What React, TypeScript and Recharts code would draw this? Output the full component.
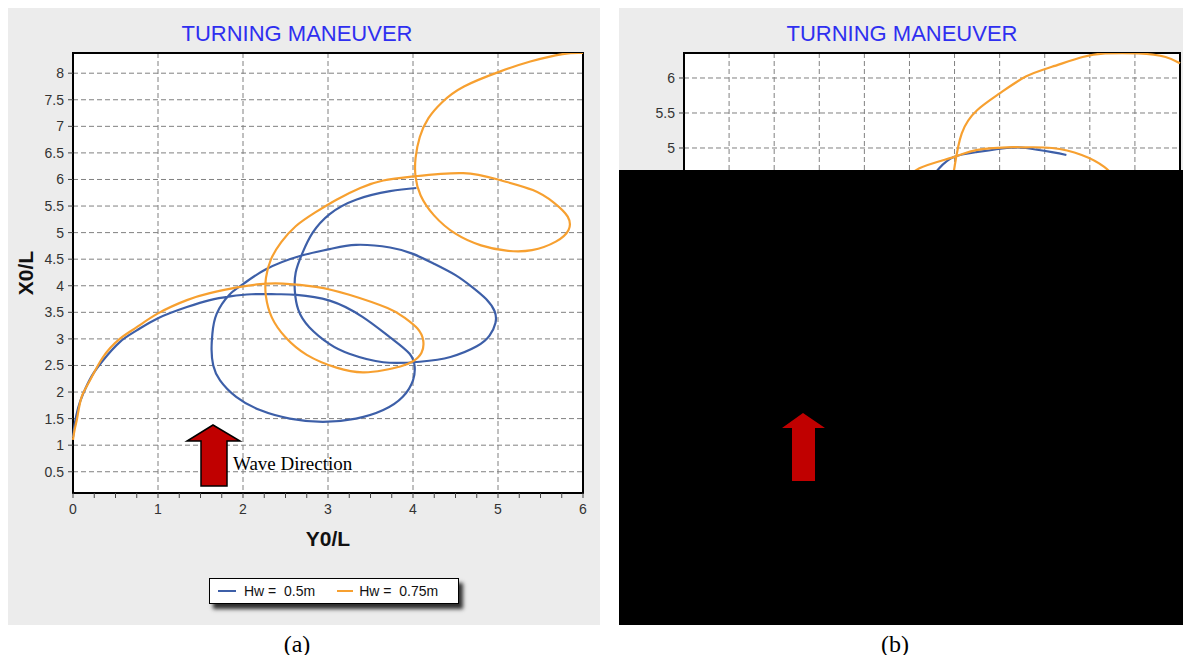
import React from 'react';
import { ScatterChart, Scatter, XAxis, YAxis, CartesianGrid, ReferenceArea, Legend } from 'recharts';

// Trajectories: x = Y0/L, y = X0/L
const blueA = [
  { x: 0, y: 1.15 }, { x: 0.02, y: 1.4 }, { x: 0.06, y: 1.7 }, { x: 0.12, y: 1.97 }, { x: 0.22, y: 2.3 },
  { x: 0.35, y: 2.59 }, { x: 0.55, y: 2.94 }, { x: 0.75, y: 3.16 }, { x: 1.0, y: 3.39 }, { x: 1.34, y: 3.6 },
  { x: 1.61, y: 3.73 }, { x: 1.85, y: 3.8 }, { x: 2.1, y: 3.84 }, { x: 2.4, y: 3.84 }, { x: 2.63, y: 3.83 },
  { x: 3.02, y: 3.72 }, { x: 3.41, y: 3.41 }, { x: 3.73, y: 3.03 }, { x: 3.96, y: 2.72 }, { x: 4.02, y: 2.47 },
  { x: 4.0, y: 2.22 }, { x: 3.88, y: 1.91 }, { x: 3.65, y: 1.66 }, { x: 3.33, y: 1.5 }, { x: 2.94, y: 1.44 },
  { x: 2.55, y: 1.5 }, { x: 2.2, y: 1.66 }, { x: 1.92, y: 1.91 }, { x: 1.73, y: 2.22 }, { x: 1.65, y: 2.5 },
  { x: 1.63, y: 2.8 }, { x: 1.64, y: 3.1 }, { x: 1.69, y: 3.47 }, { x: 1.84, y: 3.83 }, { x: 2.0, y: 4.03 },
  { x: 2.27, y: 4.31 }, { x: 2.67, y: 4.56 }, { x: 3.02, y: 4.69 }, { x: 3.33, y: 4.77 }, { x: 3.73, y: 4.72 },
  { x: 4.0, y: 4.6 }, { x: 4.24, y: 4.42 }, { x: 4.5, y: 4.2 }, { x: 4.7, y: 3.97 }, { x: 4.86, y: 3.75 },
  { x: 4.96, y: 3.52 }, { x: 4.97, y: 3.3 }, { x: 4.9, y: 3.06 }, { x: 4.75, y: 2.86 }, { x: 4.44, y: 2.66 },
  { x: 4.08, y: 2.57 }, { x: 3.65, y: 2.56 }, { x: 3.25, y: 2.72 }, { x: 3.02, y: 2.9 }, { x: 2.78, y: 3.22 },
  { x: 2.65, y: 3.55 }, { x: 2.61, y: 3.9 }, { x: 2.62, y: 4.25 }, { x: 2.7, y: 4.62 }, { x: 2.82, y: 5.0 },
  { x: 3.02, y: 5.35 }, { x: 3.33, y: 5.62 }, { x: 3.73, y: 5.78 }, { x: 4.04, y: 5.84 },
];

const orangeA = [
  { x: 0, y: 1.1 }, { x: 0.02, y: 1.3 }, { x: 0.05, y: 1.52 }, { x: 0.1, y: 1.9 }, { x: 0.2, y: 2.22 },
  { x: 0.35, y: 2.65 }, { x: 0.55, y: 3.0 }, { x: 0.75, y: 3.22 }, { x: 1.0, y: 3.48 }, { x: 1.34, y: 3.73 },
  { x: 1.61, y: 3.86 }, { x: 1.93, y: 3.97 }, { x: 2.2, y: 4.03 }, { x: 2.47, y: 4.04 }, { x: 2.86, y: 3.98 },
  { x: 3.25, y: 3.83 }, { x: 3.7, y: 3.58 }, { x: 3.9, y: 3.4 }, { x: 4.05, y: 3.2 }, { x: 4.12, y: 2.97 },
  { x: 4.1, y: 2.74 }, { x: 4.0, y: 2.58 }, { x: 3.85, y: 2.48 }, { x: 3.65, y: 2.41 }, { x: 3.41, y: 2.37 },
  { x: 3.1, y: 2.46 }, { x: 2.75, y: 2.7 }, { x: 2.5, y: 3.03 }, { x: 2.34, y: 3.4 }, { x: 2.27, y: 3.8 },
  { x: 2.27, y: 4.15 }, { x: 2.33, y: 4.5 }, { x: 2.45, y: 4.82 }, { x: 2.62, y: 5.12 }, { x: 2.85, y: 5.38 },
  { x: 3.1, y: 5.62 }, { x: 3.38, y: 5.84 }, { x: 3.65, y: 5.98 }, { x: 4.02, y: 6.06 }, { x: 4.59, y: 6.12 },
  { x: 5.02, y: 5.99 }, { x: 5.41, y: 5.8 }, { x: 5.66, y: 5.56 }, { x: 5.82, y: 5.3 }, { x: 5.83, y: 5.05 },
  { x: 5.68, y: 4.83 }, { x: 5.4, y: 4.67 }, { x: 5.1, y: 4.66 }, { x: 4.8, y: 4.76 }, { x: 4.5, y: 4.98 },
  { x: 4.25, y: 5.32 }, { x: 4.09, y: 5.7 }, { x: 4.03, y: 6.05 }, { x: 4.03, y: 6.4 }, { x: 4.08, y: 6.8 },
  { x: 4.18, y: 7.15 }, { x: 4.34, y: 7.45 }, { x: 4.6, y: 7.75 }, { x: 5.02, y: 8.03 }, { x: 5.38, y: 8.22 },
  { x: 5.76, y: 8.36 }, { x: 6.0, y: 8.38 },
];

// Visible pieces of panel (b)
const blueB = [
  { x: 2.7, y: 4.5 }, { x: 2.83, y: 4.71 }, { x: 2.99, y: 4.87 }, { x: 3.24, y: 4.94 }, { x: 3.58, y: 5.0 },
  { x: 3.79, y: 5.0 }, { x: 4.08, y: 4.94 }, { x: 4.24, y: 4.9 },
];
const orangeB1 = [
  { x: 2.97, y: 4.5 }, { x: 3.0, y: 4.73 }, { x: 3.08, y: 5.21 }, { x: 3.25, y: 5.54 }, { x: 3.5, y: 5.78 },
  { x: 3.79, y: 6.02 }, { x: 4.08, y: 6.16 }, { x: 4.42, y: 6.3 }, { x: 4.67, y: 6.35 }, { x: 5.04, y: 6.35 },
  { x: 5.34, y: 6.3 }, { x: 5.5, y: 6.21 },
];
const orangeB2 = [
  { x: 2.45, y: 4.5 }, { x: 2.61, y: 4.71 }, { x: 2.99, y: 4.87 }, { x: 3.24, y: 4.97 }, { x: 3.58, y: 5.01 },
  { x: 3.79, y: 5.01 }, { x: 4.08, y: 5.0 }, { x: 4.41, y: 4.9 }, { x: 4.66, y: 4.73 }, { x: 4.8, y: 4.55 },
];

const X_TICKS_A = [0, 0.25, 0.5, 0.75, 1, 1.25, 1.5, 1.75, 2, 2.25, 2.5, 2.75, 3, 3.25, 3.5, 3.75, 4, 4.25, 4.5, 4.75, 5, 5.25, 5.5, 5.75, 6];
const X_GRID_A = [1, 2, 3, 4, 5];
const Y_TICKS_A = [0.5, 1, 1.5, 2, 2.5, 3, 3.5, 4, 4.5, 5, 5.5, 6, 6.5, 7, 7.5, 8];
const X_GRID_B = [0.5, 1, 1.5, 2, 2.5, 3, 3.5, 4, 4.5, 5];
const Y_TICKS_B = [0.5, 1, 1.5, 2, 2.5, 3, 3.5, 4, 4.5, 5, 5.5, 6];

const SERIES_NAMES = ['Hw =  0.5m', 'Hw =  0.75m'];
const BLUE = '#3d5fa8';
const ORANGE = '#f7a030';
const SANS = 'Arial, "Liberation Sans", sans-serif';
const SERIF = '"Times New Roman", "Liberation Serif", serif';
const PANEL_BG = '#ececec';

const noShape = () => <g />;

const tickStyle = { fill: '#333', fontSize: 14, fontFamily: SANS };

function YTitle(props: any) {
  const { viewBox } = props;
  const cx = viewBox.x + 20;
  const cy = viewBox.y + viewBox.height / 2;
  return (
    <text x={cx} y={cy} transform={`rotate(-90 ${cx} ${cy})`} textAnchor="middle" dominantBaseline="central"
      style={{ fontFamily: SANS, fontWeight: 'bold', fontSize: 21, fill: '#111' }}>
      X0/L
    </text>
  );
}

function XTitle(props: any) {
  const { viewBox } = props;
  const cx = viewBox.x + viewBox.width / 2;
  const cy = viewBox.y + 45;
  return (
    <text x={cx} y={cy} textAnchor="middle" dominantBaseline="central"
      style={{ fontFamily: SANS, fontWeight: 'bold', fontSize: 21, fill: '#111' }}>
      Y0/L
    </text>
  );
}

function LegendBox() {
  return (
    <div style={{
      width: 250, height: 26, boxSizing: 'border-box', border: '1px solid #000', background: '#fff',
      boxShadow: '4px 5px 4px rgba(0,0,0,0.8)', display: 'flex', alignItems: 'center',
      fontFamily: SANS, fontSize: 14, color: '#111', whiteSpace: 'pre',
    }}>
      <span style={{ display: 'inline-block', width: 18, height: 2, background: BLUE, marginLeft: 8, marginRight: 8 }} />
      <span>{SERIES_NAMES[0]}</span>
      <span style={{ display: 'inline-block', width: 16, height: 2, background: ORANGE, marginLeft: 22, marginRight: 6 }} />
      <span>{SERIES_NAMES[1]}</span>
    </div>
  );
}

function Title({ centerX }: { centerX: number }) {
  return (
    <div style={{
      position: 'absolute', left: centerX - 150, width: 300, top: 14, lineHeight: '24px', textAlign: 'center',
      fontFamily: SANS, fontSize: 22, color: '#2f2ff0',
    }}>
      TURNING MANEUVER
    </div>
  );
}

export default function App() {
  return (
    <div style={{ position: 'relative', width: 1191, height: 663, margin: -8, background: '#fff', overflow: 'hidden' }}>
      {/* panel (a) */}
      <div style={{ position: 'absolute', left: 5, top: 8, width: 595, height: 617, background: PANEL_BG }}>
        <ScatterChart width={595} height={617} margin={{ top: 45, right: 17, bottom: 72, left: 0 }}>
          <CartesianGrid fill="#fff" fillOpacity={1} stroke="#808080" strokeDasharray="5 3"
            verticalValues={X_GRID_A} horizontalValues={Y_TICKS_A} />
          <XAxis type="number" dataKey="x" domain={[0, 6]} ticks={X_TICKS_A} interval={0} height={60}
            tickFormatter={(v: number) => (Number.isInteger(v) ? String(v) : '')}
            tick={tickStyle} tickSize={5} tickMargin={6} stroke="#000" strokeWidth={2}
            tickLine={{ stroke: '#444', strokeWidth: 1 }} label={{ value: 'Y0/L', content: XTitle }} />
          <YAxis type="number" dataKey="y" domain={[0.1, 8.38]} ticks={Y_TICKS_A} interval={0} width={68}
            allowDataOverflow tick={tickStyle} tickSize={5} tickMargin={4} stroke="#000" strokeWidth={2}
            tickLine={{ stroke: '#444', strokeWidth: 1 }} label={{ value: 'X0/L', content: YTitle }} />
          <Scatter name={SERIES_NAMES[0]} data={blueA} fill={BLUE} line={{ strokeWidth: 2.2 }}
            lineJointType="natural" shape={noShape} isAnimationActive={false} />
          <Scatter name={SERIES_NAMES[1]} data={orangeA} fill={ORANGE} line={{ strokeWidth: 2.2 }}
            lineJointType="natural" shape={noShape} isAnimationActive={false} />
          <ReferenceArea x1={0} x2={6} y1={0.1} y2={8.38} fill="none" stroke="#000" strokeWidth={2} />
          <Legend layout="horizontal" verticalAlign="middle" align="center" content={LegendBox}
            wrapperStyle={{ left: 204, top: 570, width: 250, height: 26 }} />
        </ScatterChart>
        <Title centerX={292} />
      </div>

      {/* panel (b) */}
      <div style={{ position: 'absolute', left: 619, top: 8, width: 572, height: 617, background: PANEL_BG }}>
        <ScatterChart width={572} height={617} margin={{ top: 45, right: 11, bottom: 127, left: 0 }}>
          <CartesianGrid fill="#fff" fillOpacity={1} stroke="#808080" strokeDasharray="5 3"
            verticalValues={X_GRID_B} horizontalValues={Y_TICKS_B} />
          <XAxis type="number" dataKey="x" domain={[0, 5.5]} hide />
          <YAxis type="number" dataKey="y" domain={[0, 6.357]} ticks={Y_TICKS_B} interval={0} width={65}
            allowDataOverflow tick={tickStyle} tickSize={5} tickMargin={4} stroke="#000" strokeWidth={2}
            tickLine={{ stroke: '#444', strokeWidth: 1 }} />
          <Scatter name={SERIES_NAMES[0]} data={blueB} fill={BLUE} line={{ strokeWidth: 2.2 }}
            lineJointType="natural" shape={noShape} isAnimationActive={false} />
          <Scatter name={SERIES_NAMES[1]} data={orangeB1} fill={ORANGE} line={{ strokeWidth: 2.2 }}
            lineJointType="natural" shape={noShape} isAnimationActive={false} />
          <Scatter name={SERIES_NAMES[1]} data={orangeB2} fill={ORANGE} line={{ strokeWidth: 2.2 }}
            lineJointType="natural" shape={noShape} isAnimationActive={false} />
          <ReferenceArea x1={0} x2={5.5} y1={0} y2={6.357} fill="none" stroke="#000" strokeWidth={2} />
        </ScatterChart>
        <Title centerX={283} />
      </div>

      {/* mask over panel (b) */}
      <div style={{ position: 'absolute', left: 619, top: 170, width: 572, height: 455, background: '#000' }} />

      {/* wave direction annotations */}
      <svg width={1191} height={663} style={{ position: 'absolute', left: 0, top: 0, pointerEvents: 'none' }}>
        <polygon points="213,425 240,441 227,441 227,486 201,486 201,441 187,441"
          fill="#c00000" stroke="#000" strokeWidth={1.5} strokeLinejoin="miter" />
        <text x={233} y={470} style={{ fontFamily: SERIF, fontSize: 19, fill: '#000' }}>Wave Direction</text>
        <polygon points="803,413 825,428 815,428 815,481 792,481 792,428 782,428" fill="#c00000" />
        <text x={297} y={652} textAnchor="middle" style={{ fontFamily: SERIF, fontSize: 24, fill: '#000' }}>(a)</text>
        <text x={895} y={652} textAnchor="middle" style={{ fontFamily: SERIF, fontSize: 24, fill: '#000' }}>(b)</text>
      </svg>
    </div>
  );
}
